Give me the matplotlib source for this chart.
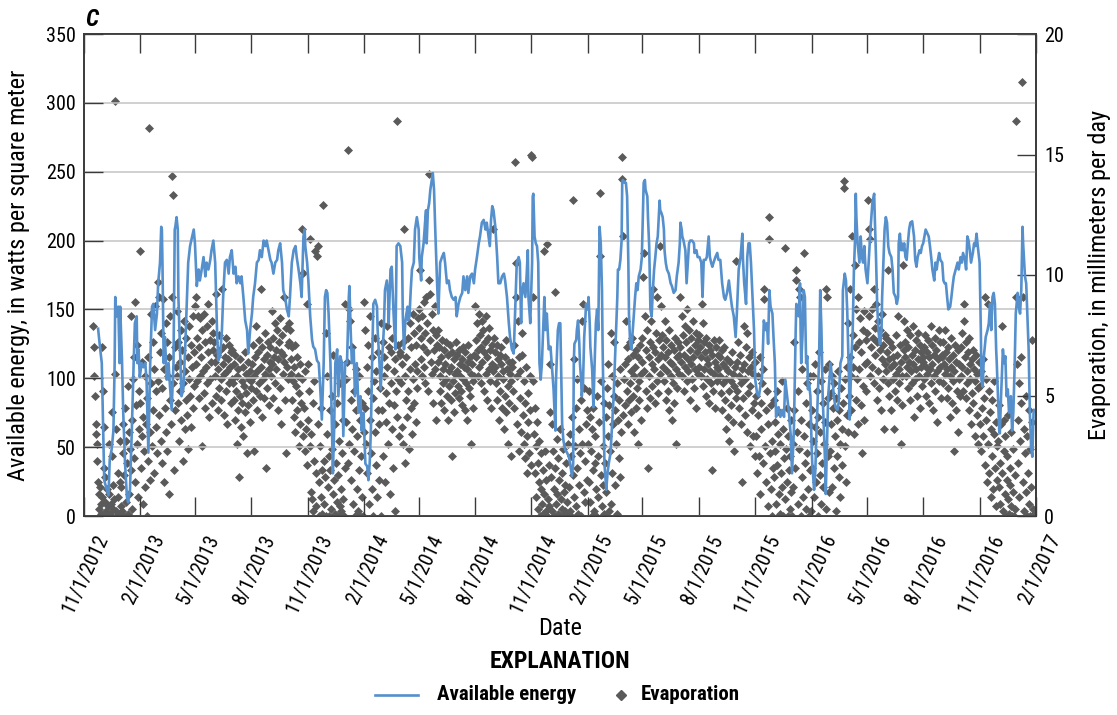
import datetime as dt
import matplotlib
matplotlib.use("Agg")
import matplotlib.pyplot as plt
from matplotlib import font_manager as fm
from matplotlib.lines import Line2D
from matplotlib.transforms import ScaledTranslation

# pick a narrow sans if one is installed (reference uses a condensed face)
_fonts = fm.fontManager.ttflist
_names = {f.name for f in _fonts}
_family = None
for cand in ['Liberation Sans Narrow', 'Roboto Condensed', 'Open Sans Condensed',
             'DejaVu Sans Condensed', 'Noto Sans Condensed']:
    if cand in _names:
        _family = cand
        break
if _family is None:
    for cand in ['Liberation Sans', 'Roboto', 'Noto Sans', 'Open Sans', 'DejaVu Sans']:
        if any(f.name == cand and f.stretch in ('condensed', 'semi-condensed', 'extra-condensed')
               for f in _fonts):
            _family = cand
            plt.rcParams['font.stretch'] = 'condensed'
            break
if _family is None:
    _family = 'Liberation Sans'
plt.rcParams['font.family'] = [_family, 'DejaVu Sans']

# Available energy, W/m2: (days since 11/1/2012, value)
energy_pts = [
    (23, 136), (26, 123), (29, 111), (32, 50), (33, 26), (36, 21), (40, 15), (42, 41), (45, 48), (48, 62),
    (50, 111), (51, 159), (53, 145), (56, 152), (58, 111), (59, 152), (62, 113), (64, 75), (67, 38), (70, 14),
    (72, 10), (75, 19), (78, 62), (81, 111), (83, 140), (86, 145), (87, 111), (89, 121), (91, 101), (94, 111),
    (97, 108), (100, 111), (102, 99), (105, 46), (108, 111), (111, 152), (113, 154), (116, 135), (119, 147),
    (121, 169), (124, 184), (126, 210), (127, 208), (128, 184), (130, 111), (132, 130), (135, 99), (138, 111),
    (140, 96), (143, 77), (146, 111), (148, 208), (149, 210), (151, 217), (153, 208), (154, 159), (157, 116),
    (159, 87), (162, 92), (165, 121), (168, 159), (170, 184), (173, 196), (179, 208), (181, 198), (184, 167),
    (187, 179), (189, 171), (192, 179), (195, 188), (198, 174), (200, 184), (203, 179), (206, 186), (208, 193),
    (211, 200), (214, 184), (217, 135), (219, 113), (222, 116), (225, 135), (227, 159), (230, 184), (233, 186),
    (236, 176), (238, 188), (241, 193), (244, 176), (247, 181), (249, 169), (252, 174),
    (255, 169), (257, 174), (260, 159), (263, 142), (266, 135), (268, 118), (271, 135), (274, 147), (276, 159),
    (279, 169), (282, 184), (285, 186), (287, 193), (290, 188), (293, 200), (296, 196), (298, 200), (301, 193),
    (304, 186), (306, 184), (309, 176), (312, 184), (315, 186), (317, 193), (320, 198), (323, 184), (325, 164),
    (328, 159), (331, 150), (334, 145), (336, 159), (339, 184), (342, 193), (345, 196), (347, 188), (350, 179),
    (353, 169), (355, 159), (358, 203), (360, 208), (361, 196), (364, 184), (366, 171), (369, 145), (372, 128),
    (374, 123), (377, 121), (380, 113), (383, 111), (385, 96), (388, 70), (391, 111), (393, 159), (395, 164),
    (397, 162), (399, 147), (402, 111), (404, 75), (406, 31), (408, 62), (410, 111), (413, 121), (415, 87),
    (418, 116), (421, 111), (423, 58), (426, 111), (429, 111), (432, 159), (433, 167), (435, 135), (437, 111),
    (440, 121), (442, 87), (445, 111), (448, 75), (451, 87), (453, 62), (456, 75), (459, 38), (462, 36),
    (464, 26), (466, 38), (468, 62), (470, 111), (472, 154), (475, 157), (478, 152), (479, 135), (482, 111),
    (484, 92), (486, 111), (489, 135), (491, 164), (494, 171), (496, 162), (497, 140), (500, 179), (502, 181),
    (505, 147), (508, 121), (510, 196), (513, 198),
    (516, 196), (519, 184), (520, 147), (522, 121), (524, 140), (526, 147), (528, 152), (529, 142), (531, 145),
    (533, 164), (535, 179), (538, 184), (540, 208), (543, 217), (546, 208), (547, 188), (550, 171), (551, 188),
    (554, 198), (557, 217), (558, 222), (559, 198), (561, 222), (563, 227), (565, 237), (568, 246), (569, 249),
    (571, 237), (573, 208), (576, 169), (578, 147), (581, 184), (584, 188), (587, 191), (589, 184), (592, 169),
    (595, 171), (597, 164), (600, 159), (603, 157), (606, 159), (608, 145), (611, 154), (614, 159), (617, 162),
    (619, 174), (622, 164), (625, 174), (627, 162), (630, 174), (633, 176), (636, 169), (638, 179), (641, 188),
    (644, 198), (646, 203), (649, 213), (652, 215), (655, 208), (657, 213), (660, 203), (662, 196), (664, 215),
    (666, 225), (668, 222), (671, 210), (674, 188), (676, 169), (679, 169), (682, 174), (685, 176), (687, 171),
    (690, 159), (693, 140), (695, 130), (698, 121), (701, 118), (704, 159), (706, 184), (709, 188), (711, 184),
    (713, 140), (714, 159), (717, 169), (720, 159), (722, 174), (724, 193), (725, 159), (728, 140), (731, 184),
    (732, 232), (733, 234), (735, 203), (737, 198), (739, 196), (741, 184), (743, 111), (745, 99), (747, 111),
    (749, 135), (751, 159), (753, 135), (755, 147), (758, 121), (761, 123), (763, 111), (766, 92), (769, 62),
    (770, 99), (773, 135), (775, 140),
    (777, 140), (780, 67), (782, 55), (785, 48), (788, 46), (791, 43), (793, 38), (796, 29), (798, 38),
    (799, 111), (800, 125), (803, 128), (804, 135), (806, 142), (808, 125), (809, 111), (811, 99), (812, 87),
    (814, 96), (816, 130), (818, 145), (819, 154), (822, 150), (823, 159), (825, 140), (826, 123), (829, 106),
    (831, 79), (833, 111), (835, 140), (837, 150), (839, 135), (840, 171), (841, 210), (843, 198), (845, 164),
    (846, 123), (848, 67), (849, 38), (852, 19), (854, 31), (856, 38), (859, 46), (861, 62), (864, 87),
    (867, 123), (870, 159), (871, 179), (873, 179), (875, 186), (877, 200), (878, 242), (879, 244), (882, 242),
    (884, 242), (886, 232), (888, 184), (889, 147), (891, 125), (893, 121), (896, 140), (898, 152), (899, 159),
    (901, 169), (903, 164), (905, 174), (908, 179), (910, 188), (913, 242), (915, 244), (916, 237), (919, 232),
    (920, 217), (922, 196), (924, 150), (926, 145), (928, 164), (930, 179), (932, 188), (934, 198), (936, 203),
    (939, 229), (940, 222), (942, 220), (944, 217), (946, 208), (947, 193), (949, 184), (951, 179), (954, 176),
    (957, 169), (959, 167), (962, 162), (965, 164), (967, 174), (970, 184), (972, 198), (973, 213), (975, 208),
    (976, 203), (978, 200), (981, 193), (983, 169), (985, 184), (987, 198), (989, 200), (992, 200), (995, 198),
    (996, 191), (999, 193), (1001, 188), (1004, 188), (1007, 184), (1009, 159), (1011, 186), (1014, 186),
    (1016, 188), (1019, 203), (1021, 188), (1023, 184), (1025, 181), (1027, 184), (1030, 188), (1033, 191),
    (1035, 186),
    (1038, 186), (1041, 169), (1044, 159), (1046, 157), (1049, 162), (1052, 171), (1055, 159), (1057, 152),
    (1060, 145), (1063, 130), (1065, 147), (1068, 179), (1071, 188), (1074, 205), (1075, 186), (1077, 169),
    (1080, 154), (1082, 188), (1084, 198), (1086, 198), (1088, 184), (1090, 164), (1093, 135), (1095, 99),
    (1098, 89), (1101, 87), (1104, 96), (1106, 101), (1109, 142), (1112, 135), (1114, 140), (1116, 125),
    (1118, 164), (1120, 152), (1123, 147), (1125, 128), (1127, 111), (1129, 72), (1131, 77), (1133, 79),
    (1136, 72), (1139, 77), (1142, 72), (1144, 99), (1147, 87), (1150, 75), (1153, 58), (1155, 31), (1158, 62),
    (1161, 135), (1162, 154), (1164, 150), (1166, 145), (1168, 169), (1169, 135), (1170, 111), (1172, 130),
    (1174, 164), (1176, 159), (1178, 111), (1180, 116), (1181, 92), (1183, 96), (1185, 87), (1187, 50),
    (1188, 38), (1191, 19), (1193, 33), (1195, 62), (1197, 87), (1199, 111), (1201, 164), (1203, 135),
    (1205, 87), (1207, 62), (1209, 38), (1210, 16), (1212, 50), (1214, 87), (1216, 99), (1218, 111),
    (1220, 101), (1222, 94), (1223, 87), (1226, 79), (1229, 77), (1231, 82), (1234, 111), (1237, 116),
    (1238, 164), (1241, 176), (1243, 171), (1245, 150), (1248, 99), (1249, 70), (1252, 116), (1254, 135),
    (1256, 179), (1258, 203), (1259, 234), (1260, 217), (1262, 198), (1265, 184), (1267, 203), (1269, 188),
    (1271, 184), (1273, 196), (1275, 179), (1278, 169), (1280, 184), (1283, 208), (1286, 227), (1289, 234),
    (1290, 217), (1292, 188), (1294, 152), (1296, 135), (1298, 125),
    (1299, 125), (1301, 135), (1302, 159), (1304, 184), (1306, 208), (1308, 217), (1310, 213), (1312, 196),
    (1314, 191), (1317, 188), (1319, 179), (1321, 162), (1324, 159), (1326, 154), (1328, 159), (1329, 198),
    (1331, 205), (1333, 193), (1334, 198), (1336, 193), (1338, 198), (1340, 188), (1342, 186), (1344, 198),
    (1346, 208), (1348, 213), (1351, 214), (1354, 203), (1356, 186), (1358, 181), (1360, 188), (1363, 193),
    (1365, 191), (1367, 196), (1369, 198), (1371, 203), (1373, 208), (1376, 205), (1378, 203), (1380, 196),
    (1382, 188), (1384, 179), (1387, 171), (1389, 184), (1391, 179), (1393, 186), (1395, 191), (1397, 186),
    (1400, 184), (1402, 171), (1404, 169), (1406, 169), (1408, 159), (1410, 150), (1413, 152), (1415, 159),
    (1417, 167), (1419, 174), (1422, 179), (1425, 184), (1427, 179), (1430, 188), (1432, 184), (1434, 191),
    (1437, 186), (1439, 179), (1441, 203), (1443, 200), (1445, 193), (1447, 184), (1450, 191), (1452, 198),
    (1454, 196), (1456, 205), (1458, 196), (1461, 184), (1463, 135), (1464, 99), (1466, 94), (1468, 116),
    (1471, 130), (1474, 135), (1476, 140), (1478, 154), (1480, 135), (1482, 159), (1484, 162), (1486, 154),
    (1488, 121), (1489, 111), (1491, 87), (1493, 62), (1494, 60), (1496, 87), (1499, 121), (1501, 111),
    (1503, 116), (1505, 87), (1507, 92), (1509, 75), (1512, 87), (1514, 62), (1516, 75), (1518, 106),
    (1520, 147), (1523, 162), (1525, 152), (1527, 147), (1529, 164), (1531, 210), (1532, 198), (1535, 174),
    (1537, 169), (1539, 145), (1541, 121), (1543, 75), (1545, 50), (1547, 43), (1549, 75), (1550, 77),
]

# Evaporation, tenths of mm/day, one value per day from 11/16/2012
evap_first_day = dt.date(2012, 11, 16)
evap_tenths = [
    # Nov 2012
    79, 58, 70, 50, 34, 38, 23, 30, 14, 9, 3, 12, 5, 1, 8,
    # Dec 2012
    70, 52, 37, 20, 6, 16, 2, 0, 11, 4, 30, 9, 1, 0, 5, 25, 43, 13, 3, 7,
    172, 59, 36, 2, 0, 18, 8, 1, 31, 14, 4,
    # Jan 2013
    12, 2, 38, 26, 0, 17, 45, 6, 31, 22, 1, 54, 35, 9, 28, 19, 83, 40, 3, 57,
    24, 66, 89, 14, 46, 30, 71, 8, 52, 36, 110,
    # Feb 2013
    47, 20, 64, 33, 5, 41, 27, 58, 12, 38, 0, 49, 23, 66, 161, 35, 15, 84, 55, 29,
    44, 72, 18, 61, 87, 37, 52, 26,
    # Mar 2013
    97, 56, 42, 91, 68, 31, 76, 22, 53, 90, 61, 14, 45, 80, 35, 72, 27, 58, 9, 66,
    48, 83, 38, 91, 141, 55, 133, 19, 70, 44, 62,
    # Apr 2013
    85, 58, 47, 72, 31, 64, 52, 77, 40, 69, 23, 55, 81, 36, 60, 48, 74, 42, 28, 66,
    57, 79, 50, 37, 71, 62, 45, 83, 54, 68,
    # May 2013
    87, 63, 91, 74, 56, 83, 49, 70, 82, 58, 66, 29, 77, 60, 51, 84, 72, 45, 62, 79,
    55, 68, 88, 41, 73, 57, 64, 81, 47, 69, 76,
    # Jun 2013
    72, 58, 64, 50, 92, 67, 44, 61, 75, 53, 69, 48, 57, 94, 63, 70, 42, 59, 66, 52,
    74, 60, 38, 65, 71, 55, 62, 47, 68, 57,
    # Jul 2013
    69, 55, 63, 48, 40, 67, 52, 30, 58, 44, 61, 16, 50, 65, 37, 56, 47, 62, 33, 54,
    68, 43, 59, 51, 26, 64, 46, 57, 39, 60, 53,
    # Aug 2013
    56, 63, 48, 71, 58, 27, 66, 52, 79, 60, 44, 68, 55, 73, 50, 94, 62, 41, 70, 57,
    65, 49, 76, 59, 20, 67, 53, 72, 61, 46, 64,
    # Sep 2013
    70, 58, 85, 63, 74, 49, 66, 80, 55, 69, 61, 77, 44, 65, 72, 53, 82, 68, 38, 75,
    59, 67, 91, 64, 48, 78, 26, 62, 71, 57,
    # Oct 2013
    80, 72, 77, 59, 65, 48, 70, 56, 41, 62, 71, 35, 54, 66, 44, 58, 29, 51, 63, 38,
    47, 119, 57, 33, 101, 45, 27, 60, 36, 88, 21,
    # Nov 2013
    63, 40, 52, 29, 115, 10, 34, 7, 47, 2, 23, 56, 110, 18, 4, 108, 38, 112, 0, 14,
    29, 45, 8, 19, 1, 129, 23, 5, 16, 0,
    # Dec 2013
    76, 34, 58, 12, 25, 0, 44, 19, 3, 50, 28, 9, 67, 15, 1, 38, 22, 6, 47, 0,
    17, 31, 4, 55, 11, 2, 26, 40, 7, 0, 20,
    # Jan 2014
    88, 57, 39, 64, 22, 152, 30, 86, 81, 48, 15, 70, 36, 5, 52, 27, 0, 44, 61, 11,
    33, 2, 58, 19, 40, 0, 25, 47, 8, 0, 35,
    # Feb 2014
    89, 45, 77, 30, 62, 18, 71, 52, 5, 40, 83, 26, 66, 11, 49, 0, 56, 35, 74, 21,
    60, 8, 44, 68, 15, 38, 53, 0,
    # Mar 2014
    80, 44, 72, 25, 58, 66, 14, 51, 39, 79, 62, 30, 47, 70, 9, 55, 68, 36, 74, 20,
    60, 46, 2, 65, 52, 164, 41, 71, 57, 33, 67,
    # Apr 2014
    68, 55, 63, 37, 72, 30, 119, 22, 58, 48, 66, 41, 74, 52, 28, 61, 80, 45, 70, 34,
    84, 57, 47, 76, 63, 39, 71, 53, 60, 82,
    # May 2014
    78, 86, 102, 65, 74, 58, 83, 70, 62, 89, 76, 55, 91, 68, 80, 52, 142, 98, 92, 73,
    64, 84, 59, 77, 47, 69, 87, 61, 75, 40, 71,
    # Jun 2014
    77, 64, 70, 52, 58, 66, 47, 73, 61, 55, 69, 44, 63, 72, 57, 50, 67, 40, 60, 54,
    71, 48, 62, 25, 68, 56, 65, 43, 59, 51,
    # Jul 2014
    72, 60, 67, 54, 69, 49, 63, 58, 52, 65, 46, 70, 57, 62, 44, 68, 55, 61, 40, 64,
    71, 53, 66, 50, 59, 30, 63, 56, 45, 67, 58,
    # Aug 2014
    87, 73, 66, 80, 58, 69, 84, 62, 75, 55, 70, 81, 64, 77, 52, 68, 72, 59, 83, 66,
    48, 74, 61, 78, 56, 69, 45, 71, 63, 119, 60,
    # Sep 2014
    74, 62, 68, 55, 71, 48, 65, 58, 40, 67, 52, 63, 70, 45, 60, 57, 36, 66, 50, 73,
    43, 61, 30, 54, 64, 47, 59, 25, 56, 62,
    # Oct 2014
    64, 52, 71, 45, 147, 91, 105, 58, 38, 81, 66, 27, 49, 60, 35, 76, 67, 42, 30, 56,
    24, 47, 62, 33, 18, 51, 39, 26, 44, 58, 21,
    # Nov 2014
    150, 149, 91, 56, 34, 45, 18, 29, 8, 39, 22, 3, 31, 14, 0, 26, 11, 5, 19, 1,
    110, 9, 27, 2, 15, 113, 0, 7, 21, 4,
    # Dec 2014
    63, 43, 16, 38, 2, 27, 11, 0, 93, 20, 5, 32, 9, 1, 24, 15, 0, 36, 7, 3,
    18, 0, 28, 10, 2, 13, 0, 22, 6, 1, 30,
    # Jan 2015
    12, 34, 2, 25, 0, 41, 17, 131, 65, 8, 29, 45, 4, 20, 57, 1, 36, 13, 26, 0,
    48, 81, 30, 88, 10, 53, 23, 6, 38, 15, 44,
    # Feb 2015
    30, 52, 14, 41, 6, 27, 0, 36, 19, 45, 2, 22, 33, 11, 0, 50, 25, 8, 39, 134,
    108, 17, 56, 4, 29, 13, 47, 1,
    # Mar 2015
    22, 41, 10, 53, 33, 63, 2, 46, 27, 76, 5, 58, 18, 38, 50, 72, 13, 44, 30, 55,
    1, 40, 24, 48, 16, 61, 35, 149, 140, 116, 42,
    # Apr 2015
    57, 46, 63, 81, 52, 70, 38, 65, 48, 72, 55, 60, 43, 74, 50, 67, 35, 58, 62, 45,
    69, 53, 30, 66, 56, 48, 71, 40, 59, 64,
    # May 2015
    74, 99, 109, 60, 83, 52, 69, 77, 45, 20, 66, 58, 72, 49, 81, 63, 54, 70, 94, 61,
    47, 68, 76, 56, 91, 65, 51, 73, 59, 112, 67,
    # Jun 2015
    87, 75, 62, 70, 56, 81, 66, 48, 73, 60, 52, 68, 77, 44, 64, 58, 71, 40, 63, 55,
    69, 47, 74, 61, 30, 66, 53, 72, 59, 67,
    # Jul 2015
    91, 70, 64, 83, 58, 75, 67, 52, 79, 62, 72, 56, 86, 65, 60, 77, 48, 69, 63, 74,
    57, 81, 66, 53, 71, 61, 76, 45, 68, 59, 73,
    # Aug 2015
    75, 62, 70, 58, 66, 88, 80, 54, 72, 61, 68, 50, 74, 65, 57, 63, 71, 47, 69, 60,
    55, 19, 67, 52, 73, 59, 45, 64, 70, 56, 62,
    # Sep 2015
    61, 67, 73, 58, 66, 51, 69, 44, 63, 55, 70, 48, 62, 36, 57, 65, 41, 60, 52, 31,
    64, 46, 56, 68, 39, 59, 27, 54, 62, 49,
    # Oct 2015
    106, 64, 52, 72, 58, 45, 67, 38, 55, 61, 14, 49, 79, 63, 42, 57, 70, 76, 35, 60,
    51, 66, 29, 54, 62, 44, 68, 33, 59, 47, 25,
    # Nov 2015
    64, 33, 50, 18, 58, 42, 25, 66, 9, 47, 36, 55, 22, 61, 94, 90, 29, 44, 14, 52,
    38, 4, 124, 115, 26, 46, 11, 31, 0, 20,
    # Dec 2015
    48, 16, 39, 27, 5, 52, 21, 34, 9, 43, 1, 30, 18, 56, 12, 0, 36, 24, 111, 7,
    28, 45, 14, 0, 33, 19, 3, 25, 10, 40, 0,
    # Jan 2016
    30, 12, 72, 44, 20, 102, 98, 35, 5, 52, 28, 94, 91, 0, 40, 16, 61, 8, 109, 33,
    22, 47, 3, 55, 26, 11, 38, 0, 19, 58, 2,
    # Feb 2016
    44, 20, 58, 31, 8, 63, 37, 14, 52, 26, 0, 41, 68, 17, 35, 5, 56, 22, 47, 12,
    30, 61, 39, 3, 94, 91, 25, 49, 10,
    # Mar 2016
    63, 27, 51, 38, 12, 58, 45, 20, 55, 33, 2, 49, 40, 25, 60, 16, 44, 30, 8, 53,
    36, 21, 47, 139, 136, 29, 57, 14, 42, 62, 35,
    # Apr 2016
    80, 50, 66, 94, 58, 44, 116, 75, 62, 34, 70, 104, 48, 86, 57, 91, 38, 72, 61, 82,
    46, 68, 26, 77, 54, 85, 40, 63, 73, 52,
    # May 2016
    76, 64, 131, 119, 83, 58, 115, 70, 86, 62, 74, 94, 55, 78, 67, 88, 48, 72, 60, 81,
    53, 69, 77, 44, 65, 84, 57, 71, 36, 63, 75,
    # Jun 2016
    74, 60, 68, 55, 102, 65, 50, 72, 62, 44, 70, 57, 66, 36, 63, 52, 75, 59, 67, 48,
    83, 61, 55, 71, 30, 64, 58, 46, 104, 69,
    # Jul 2016
    81, 66, 72, 58, 77, 62, 53, 70, 64, 48, 75, 60, 67, 55, 79, 63, 41, 69, 57, 73,
    61, 50, 76, 65, 58, 71, 45, 68, 62, 54, 66,
    # Aug 2016
    64, 70, 57, 75, 62, 50, 68, 59, 73, 47, 66, 61, 79, 55, 71, 63, 44, 67, 58, 74,
    52, 69, 60, 39, 65, 77, 56, 62, 72, 49, 67,
    # Sep 2016
    66, 72, 55, 63, 77, 59, 68, 49, 61, 70, 53, 65, 41, 58, 74, 62, 47, 67, 56, 27,
    60, 71, 44, 64, 52, 69, 35, 57, 63, 50,
    # Oct 2016
    70, 58, 76, 62, 52, 88, 81, 66, 49, 72, 60, 55, 68, 44, 74, 57, 63, 38, 65, 51,
    69, 47, 61, 33, 56, 67, 42, 59, 30, 53, 64,
    # Nov 2016
    54, 38, 60, 27, 45, 65, 33, 49, 91, 21, 57, 40, 14, 88, 30, 52, 18, 43, 8, 36,
    25, 48, 11, 34, 56, 20, 4, 39, 15, 29,
    # Dec 2016
    31, 12, 46, 22, 5, 38, 18, 79, 2, 27, 40, 9, 33, 0, 15, 25, 7, 42, 1, 20,
    13, 35, 4, 0, 28, 10, 0, 17, 3, 91, 164,
    # Jan 2017
    63, 40, 22, 55, 8, 31, 47, 66, 180, 14, 91, 36, 2, 26, 50, 10, 33, 0, 18, 44,
    5, 28, 0, 12, 39, 73, 3, 1,
]

start = dt.date(2012, 11, 1)
end = dt.date(2017, 2, 1)
tick_dates = [dt.date(2012 + (10 + 3 * i) // 12, (10 + 3 * i) % 12 + 1, 1) for i in range(18)]

ae_dates = [start + dt.timedelta(days=d) for d, _ in energy_pts]
ae_vals = [v for _, v in energy_pts]
ev_dates = [evap_first_day + dt.timedelta(days=i) for i in range(len(evap_tenths))]
ev_vals = [v / 10 for v in evap_tenths]

line_c = '#5590cd'
dot_c = '#5a5a5a'
W, H = 1117, 715
fig = plt.figure(figsize=(W / 100, H / 100), dpi=100)
ax = fig.add_axes([84 / W, 1 - 516 / H, (1036 - 84) / W, (516 - 34) / H])
ax2 = ax.twinx()

ax2.scatter(ev_dates, ev_vals, marker='D', s=21, color=dot_c, linewidths=0)
ax.plot(ae_dates, ae_vals, color=line_c, lw=1.9)

# line above the diamonds
ax.set_zorder(ax2.get_zorder() + 1)
ax.patch.set_visible(False)
ax2.patch.set_visible(True)
ax2.patch.set_facecolor('white')

spine_c = '#3a3a3a'
ax.set_xlim(start, end)
ax.set_ylim(0, 350)
ax.set_yticks(range(0, 351, 50))
ax2.set_ylim(0, 20)
ax2.set_yticks(range(0, 21, 5))
ax.yaxis.grid(True, color='#c4c4c4', lw=1.1)
ax.set_axisbelow(True)

ax.set_xticks(tick_dates)
ax.set_xticklabels([f"{d.month}/{d.day}/{d.year}" for d in tick_dates])
ax.tick_params(axis='x', direction='in', length=13.5, width=1, color=spine_c,
               top=True, pad=11, labelsize=14.5, labelrotation=65)
ax.tick_params(axis='y', direction='in', length=13.5, width=1, color=spine_c,
               pad=6, labelsize=14.5)
ax2.tick_params(axis='y', direction='in', length=13.5, width=1, color=spine_c,
                pad=6, labelsize=14.5)
for a in (ax, ax2):
    for s in a.spines.values():
        s.set_color(spine_c)
        s.set_linewidth(1.2)

shift = ScaledTranslation(11 / 100, 0, fig.dpi_scale_trans)
for lab in ax.get_xticklabels():
    lab.set_ha('right')
    lab.set_va('top')
    lab.set_rotation_mode('anchor')
    lab.set_transform(lab.get_transform() + shift)

ax.set_xlabel('Date', fontsize=17.5, va='top')
ax.xaxis.set_label_coords(0.5, (516 - 617) / 482)
ax.set_ylabel('Available energy, in watts per square meter', fontsize=17.5)
ax.yaxis.set_label_coords((30 - 84) / 952, 0.5)
ax2.set_ylabel('Evaporation, in millimeters per day', fontsize=17.5)
ax2.yaxis.set_label_coords((1088 - 84) / 952, 0.5)

fig.text(85 / W, 1 - 26 / H, 'C', fontsize=17, fontweight='bold', fontstyle='italic')

# explanation block
fig.text(560 / W, 1 - 662 / H, 'EXPLANATION', fontsize=17, fontweight='bold',
         ha='center', va='center')
ly = 1 - 695 / H
fig.add_artist(Line2D([375 / W, 418 / W], [ly, ly], color=line_c, lw=1.9))
t1 = fig.text(437 / W, ly, 'Available energy', fontsize=15, fontweight='bold', va='center')
# keep the diamond clear of the first label whatever width the font gives
r = fig.canvas.get_renderer()
x_end = t1.get_window_extent(r).x1
x_dot = max(621, x_end + 30)
fig.add_artist(Line2D([x_dot / W], [ly], marker='D', ms=4.6, color=dot_c, lw=0))
fig.text((x_dot + 20) / W, ly, 'Evaporation', fontsize=15, fontweight='bold', va='center')

fig.savefig('out.png', dpi=100)
